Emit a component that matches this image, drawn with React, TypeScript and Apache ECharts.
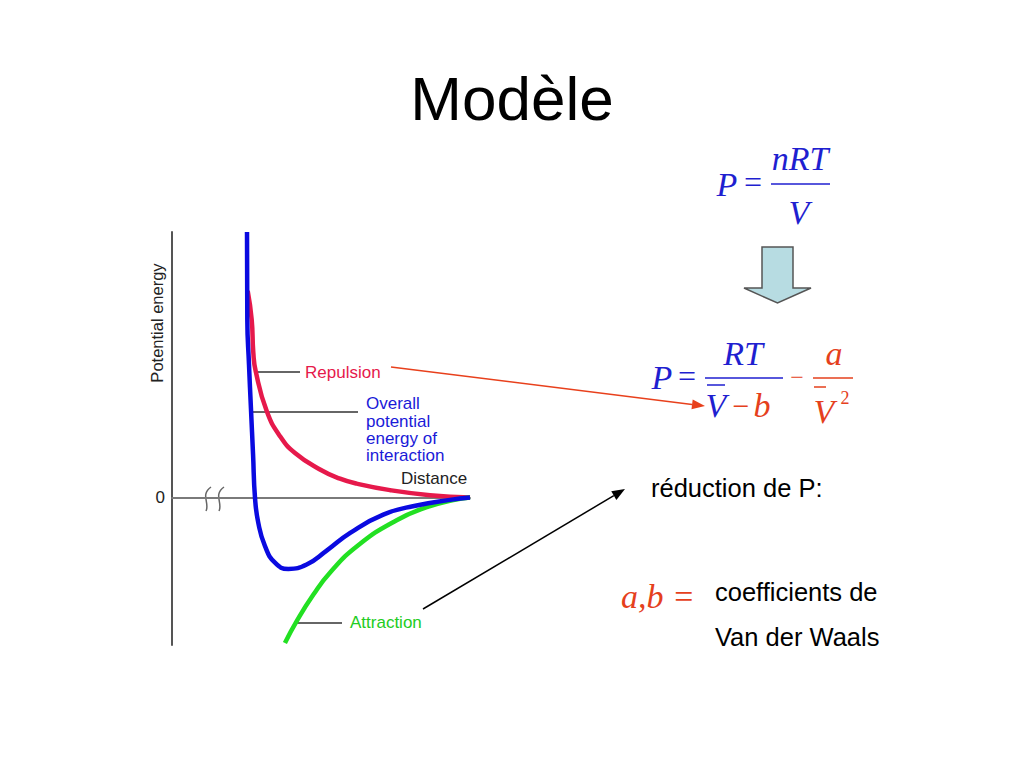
import React, { useEffect, useRef } from "react";
import * as echarts from "echarts";

// Curves: [distance, energy]
const overall: number[][] = [
  [2.517, 9.0], [2.527, 6.03], [2.584, 4.5], [2.651, 2.98], [2.72, 1.46], [2.785, 0],
  [2.896, -0.86], [3.121, -1.65], [3.456, -2.21], [3.903, -2.42], [4.52, -2.27],
  [5.19, -1.8], [5.98, -1.2], [7.09, -0.58], [8.21, -0.27], [9.33, -0.08], [10, 0],
];
const repulsion: number[][] = [
  [2.54, 7.0], [2.674, 6.03], [2.728, 4.92], [2.809, 4.28], [3.178, 2.93], [3.624, 2.08],
  [4.128, 1.51], [4.966, 0.95], [5.638, 0.64], [6.198, 0.47], [7.315, 0.25], [8.658, 0.08], [10, 0],
];
const attraction: number[][] = [
  [3.79, -4.93], [4.18, -4.2], [4.74, -3.3], [5.3, -2.55], [6.25, -1.62], [7.54, -0.77],
  [8.55, -0.33], [9.44, -0.09], [10, 0],
];
const seriesNames = ["Overall", "Repulsion", "Attraction"];
const yTickLabels = ["0"];

const SANS = "'Liberation Sans', Arial, sans-serif";
const SERIF = "'Liberation Serif', 'Times New Roman', serif";
const BLUE_F = "#1f1fd0";
const RED_F = "#e5401c";

function txt(x: number, y: number, text: string, opts: any = {}) {
  return {
    type: "text",
    x,
    y,
    rotation: opts.rotation || 0,
    style: {
      text,
      fill: opts.fill || "#000",
      font: opts.font || `17px ${SANS}`,
      textAlign: opts.align || "left",
      textVerticalAlign: "middle",
    },
  };
}
function fl(x1: number, y1: number, x2: number, y2: number, stroke: string, w = 1.5) {
  return { type: "line", shape: { x1, y1, x2, y2 }, style: { stroke, lineWidth: w } };
}
function arrowHead(x1: number, y1: number, x2: number, y2: number, color: string) {
  const dx = x2 - x1, dy = y2 - y1;
  const len = Math.sqrt(dx * dx + dy * dy);
  const ux = dx / len, uy = dy / len;
  const bx = x2 - 13 * ux, by = y2 - 13 * uy;
  const px = -uy * 5, py = ux * 5;
  return [
    fl(x1, y1, bx, by, color, 1.5),
    { type: "polygon", shape: { points: [[x2, y2], [bx + px, by + py], [bx - px, by - py]] }, style: { fill: color } },
  ];
}
function brk(x: number) {
  return {
    type: "bezierCurve",
    shape: { x1: x + 4, y1: 487, cpx1: x - 7, cpy1: 495, cpx2: x + 3, cpy2: 503, x2: x - 1, y2: 511 },
    style: { stroke: "#666", lineWidth: 1.5, fill: null },
  };
}

export default function App() {
  const ref = useRef<HTMLDivElement>(null);
  useEffect(() => {
    document.body.style.margin = "0";
    const chart = echarts.init(ref.current!, null, { renderer: "svg" });
    const lineSeries = (name: string, data: number[][], color: string) => ({
      name,
      type: "line",
      data,
      smooth: 0.5,
      symbol: "none",
      lineStyle: { color, width: 4.5 },
      z: name === "Overall" ? 3 : 2,
    });
    chart.setOption({
      animation: false,
      backgroundColor: "#fff",
      grid: { left: 172, top: 232, width: 298, height: 413 },
      xAxis: {
        type: "value",
        min: 0,
        max: 10,
        axisLine: { show: true, onZero: true, lineStyle: { color: "#7a7a7a", width: 2 } },
        axisTick: { show: false },
        axisLabel: { show: false },
        splitLine: { show: false },
      },
      yAxis: {
        type: "value",
        min: -5,
        max: 9,
        interval: 1,
        axisLine: { show: true, lineStyle: { color: "#555", width: 2 } },
        axisTick: { show: false },
        axisLabel: {
          show: true,
          color: "#222",
          fontSize: 17,
          fontFamily: SANS,
          margin: 7,
          formatter: (v: number) => (v === 0 ? yTickLabels[0] : ""),
        },
        splitLine: { show: false },
      },
      series: [
        lineSeries(seriesNames[1], repulsion, "#e6194b"),
        lineSeries(seriesNames[2], attraction, "#22e022"),
        lineSeries(seriesNames[0], overall, "#0a0ae0"),
      ],
      graphic: [
        txt(512, 98, "Modèle", { font: `62px ${SANS}`, align: "center" }),
        txt(157, 323, "Potential energy", { rotation: Math.PI / 2, align: "center", font: `16.5px ${SANS}`, fill: "#222" }),
        brk(207),
        brk(220),
        fl(257, 372, 300, 372, "#333", 1.5),
        txt(305, 372, "Repulsion", { fill: "#e6194b" }),
        fl(251, 412, 358, 412, "#333", 1.5),
        txt(366, 403, "Overall", { fill: "#1a1ad8" }),
        txt(366, 421, "potential", { fill: "#1a1ad8" }),
        txt(366, 438, "energy of", { fill: "#1a1ad8" }),
        txt(366, 455, "interaction", { fill: "#1a1ad8" }),
        txt(401, 478, "Distance", { fill: "#222" }),
        fl(297, 623, 342, 623, "#666", 2),
        txt(350, 622, "Attraction", { fill: "#22cc22" }),
        ...arrowHead(391, 367, 705, 406, "#e8401c"),
        ...arrowHead(423, 609, 625, 489, "#000"),
        // P = nRT / V
        txt(727, 184, "P", { font: `italic 34px ${SERIF}`, fill: BLUE_F, align: "center" }),
        txt(753, 182, "=", { font: `32px ${SERIF}`, fill: BLUE_F, align: "center" }),
        txt(800, 158, "nRT", { font: `italic 34px ${SERIF}`, fill: BLUE_F, align: "center" }),
        fl(771, 184, 830, 184, BLUE_F, 1.5),
        txt(799, 212, "V", { font: `italic 34px ${SERIF}`, fill: BLUE_F, align: "center" }),
        // down block arrow
        {
          type: "polygon",
          shape: { points: [[762, 247], [793, 247], [793, 288], [811, 288], [777.5, 303], [744, 288], [762, 288]] },
          style: { fill: "#b7dce2", stroke: "#555", lineWidth: 1.5 },
        },
        // P = RT/(V-b) - a/V^2
        txt(662, 377, "P", { font: `italic 34px ${SERIF}`, fill: BLUE_F, align: "center" }),
        txt(687, 376, "=", { font: `32px ${SERIF}`, fill: BLUE_F, align: "center" }),
        txt(743, 353, "RT", { font: `italic 34px ${SERIF}`, fill: BLUE_F, align: "center" }),
        fl(705, 378, 783, 378, BLUE_F, 1.5),
        fl(707, 385, 725, 385, BLUE_F, 1.5),
        txt(716, 405, "V", { font: `italic 34px ${SERIF}`, fill: BLUE_F, align: "center" }),
        txt(741, 405, "−", { font: `30px ${SERIF}`, fill: RED_F, align: "center" }),
        txt(762, 405, "b", { font: `italic 34px ${SERIF}`, fill: RED_F, align: "center" }),
        txt(797, 377, "−", { font: `24px ${SERIF}`, fill: RED_F, align: "center" }),
        txt(834, 353, "a", { font: `italic 34px ${SERIF}`, fill: RED_F, align: "center" }),
        fl(813, 378, 853, 378, RED_F, 1.5),
        fl(814, 387, 826, 387, RED_F, 1.5),
        txt(824, 411, "V", { font: `italic 34px ${SERIF}`, fill: RED_F, align: "center" }),
        txt(845, 398, "2", { font: `18px ${SERIF}`, fill: RED_F, align: "center" }),
        // texts on the right
        txt(651, 488, "réduction de P:", { font: `25.5px ${SANS}`, fill: "#000" }),
        txt(621, 596, "a,b =", { font: `italic 34px ${SERIF}`, fill: RED_F }),
        txt(715, 592, "coefficients de", { font: `25.5px ${SANS}`, fill: "#000" }),
        txt(715, 637, "Van der Waals", { font: `25.5px ${SANS}`, fill: "#000" }),
      ],
    });
    return () => chart.dispose();
  }, []);
  return <div ref={ref} style={{ position: "fixed", left: 0, top: 0, width: 1024, height: 768 }} />;
}
